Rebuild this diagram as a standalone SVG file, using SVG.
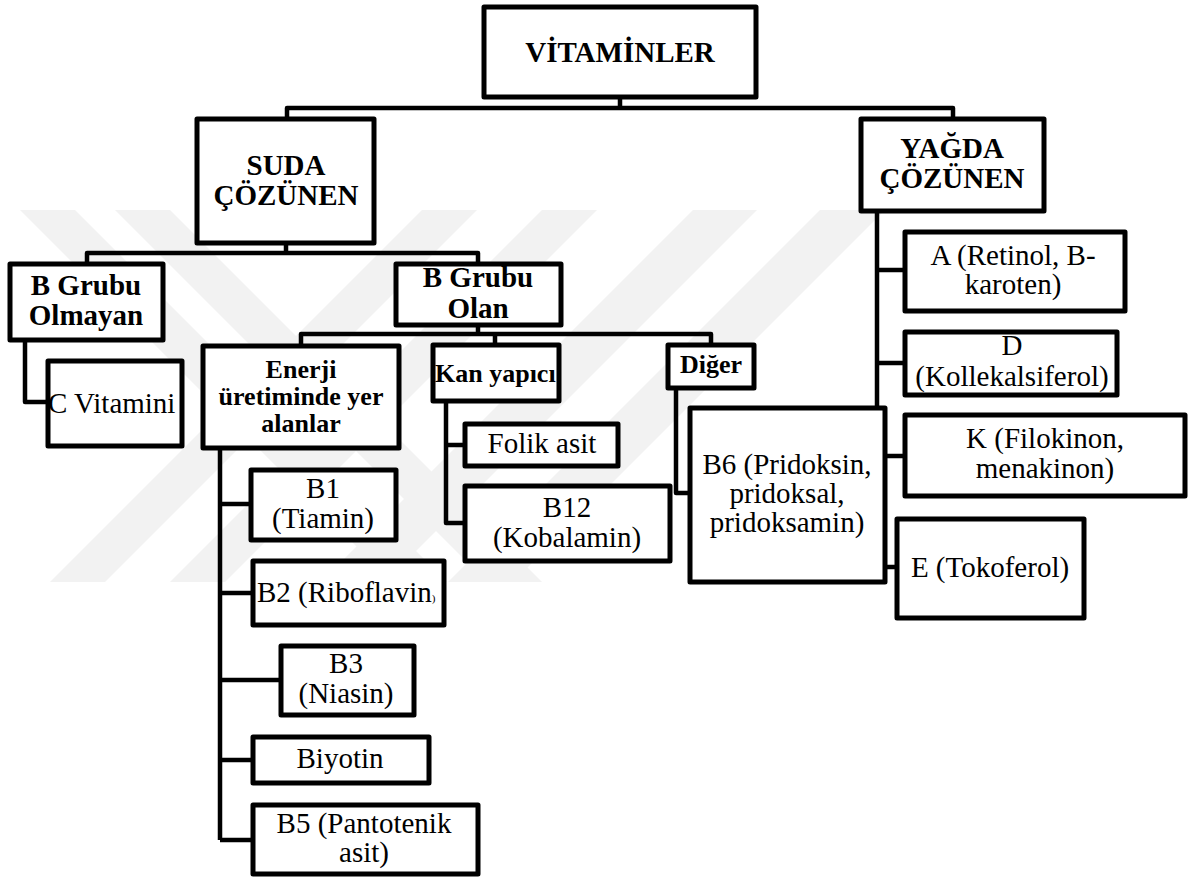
<svg xmlns="http://www.w3.org/2000/svg" width="1197" height="878" viewBox="0 0 1197 878">
<style>
.box{fill:#fff;stroke:#000;stroke-width:5;stroke-linejoin:round}
.ln{fill:none;stroke:#000;stroke-width:4.5;stroke-linejoin:round}
.h{font-family:"Liberation Serif","Times New Roman",serif;font-weight:bold;font-size:29px;text-anchor:middle;fill:#000}
.s{font-family:"Liberation Serif","Times New Roman",serif;font-weight:bold;font-size:26px;text-anchor:middle;fill:#000}
.t{font-family:"Liberation Serif","Times New Roman",serif;font-size:29px;text-anchor:middle;fill:#000}
.wm{fill:#f2f2f2}
</style>
<rect width="1197" height="878" fill="#fff"/>
<g id="watermark">
<polygon class="wm" points="20,210 75,210 447,582 392,582"/>
<polygon class="wm" points="115,210 170,210 542,582 487,582"/>
<polygon class="wm" points="50,582 105,582 477,210 422,210"/>
<polygon class="wm" points="170,582 225,582 597,210 542,210"/>
<polygon class="wm" points="693,210 757,210 385,582 321,582"/>
<polygon class="wm" points="820,210 885,210 513,582 448,582"/>
</g>
<g id="connectors">
<path class="ln" d="M620,99 V108 M287,117 V108 H953 V117"/>
<path class="ln" d="M286,245 V253 M87,262 V253 H478 V262"/>
<path class="ln" d="M478,327 V334 M301,344 V334 H711 V343 M495,334 V343"/>
<path class="ln" d="M25,342 V402 H48"/>
<path class="ln" d="M220,450 V840 M220,504 H251 M220,593 H251 M220,680 H279 M220,760 H251 M220,840 H251"/>
<path class="ln" d="M446,403 V523 H463 M446,445 H463"/>
<path class="ln" d="M676,390 V493 H688"/>
<path class="ln" d="M877,213 V406 M877,270 H903 M877,363 H903 M887,456 H903 M887,567 H895"/>
</g>
<g id="vitaminler"><rect class="box" x="484" y="7" width="272" height="90"/><text class="h" x="620" y="62">VİTAMİNLER</text></g>
<g id="suda"><rect class="box" x="197" y="119" width="177" height="124"/><text class="h" x="286" y="175">SUDA</text><text class="h" x="286" y="205">ÇÖZÜNEN</text></g>
<g id="yagda"><rect class="box" x="861" y="119" width="183" height="92"/><text class="h" x="952" y="158">YAĞDA</text><text class="h" x="952" y="188">ÇÖZÜNEN</text></g>
<g id="olmayan"><rect class="box" x="10" y="264" width="153" height="76"/><text class="h" x="86" y="295">B Grubu</text><text class="h" x="86" y="325">Olmayan</text></g>
<g id="olan"><rect class="box" x="396" y="264" width="165" height="61"/><text class="h" x="478" y="287">B Grubu</text><text class="h" x="478" y="318">Olan</text></g>
<g id="cvit"><rect class="box" x="48" y="361" width="134" height="85"/><text class="t" x="48" y="413" style="text-anchor:start">C Vitamini</text></g>
<g id="enerji"><rect class="box" x="203" y="346" width="196" height="102"/><text class="s" x="301" y="378">Enerji</text><text class="s" x="301" y="405">üretiminde yer</text><text class="s" x="301" y="432">alanlar</text></g>
<g id="kan"><rect class="box" x="433" y="345" width="126" height="56"/><text class="s" x="435" y="382" style="text-anchor:start">Kan yapıcı</text></g>
<g id="diger"><rect class="box" x="668" y="345" width="86" height="43"/><text class="s" x="711" y="373">Diğer</text></g>
<g id="folik"><rect class="box" x="465" y="424" width="153" height="42"/><text class="t" x="542" y="453">Folik asit</text></g>
<g id="b12"><rect class="box" x="465" y="486" width="205" height="75"/><text class="t" x="567" y="517">B12</text><text class="t" x="567" y="547">(Kobalamin)</text></g>
<g id="b6"><rect class="box" x="690" y="408" width="195" height="174"/><text class="t" x="787" y="474">B6 (Pridoksin,</text><text class="t" x="787" y="503">pridoksal,</text><text class="t" x="787" y="532">pridoksamin)</text></g>
<g id="a"><rect class="box" x="905" y="232" width="220" height="79"/><text class="t" x="1013" y="265">A (Retinol, B-</text><text class="t" x="1013" y="294">karoten)</text></g>
<g id="d"><rect class="box" x="905" y="332" width="212" height="63"/><text class="t" x="1012" y="355">D</text><text class="t" x="1012" y="386">(Kollekalsiferol)</text></g>
<g id="k"><rect class="box" x="905" y="415" width="280" height="81"/><text class="t" x="1045" y="448">K (Filokinon,</text><text class="t" x="1045" y="478">menakinon)</text></g>
<g id="e"><rect class="box" x="897" y="519" width="187" height="99"/><text class="t" x="990" y="577">E (Tokoferol)</text></g>
<g id="b1"><rect class="box" x="251" y="470" width="145" height="70"/><text class="t" x="323" y="498">B1</text><text class="t" x="323" y="528">(Tiamin)</text></g>
<g id="b2"><rect class="box" x="253" y="561" width="191" height="64"/><text class="t" x="257" y="602" style="text-anchor:start">B2 (Riboflavin<tspan style="font-size:11px">)</tspan></text></g>
<g id="b3"><rect class="box" x="281" y="646" width="133" height="69"/><text class="t" x="346" y="673">B3</text><text class="t" x="346" y="703">(Niasin)</text></g>
<g id="biyotin"><rect class="box" x="253" y="737" width="176" height="46"/><text class="t" x="340" y="768">Biyotin</text></g>
<g id="b5"><rect class="box" x="253" y="805" width="225" height="69"/><text class="t" x="364" y="833">B5 (Pantotenik</text><text class="t" x="364" y="862">asit)</text></g>
</svg>
